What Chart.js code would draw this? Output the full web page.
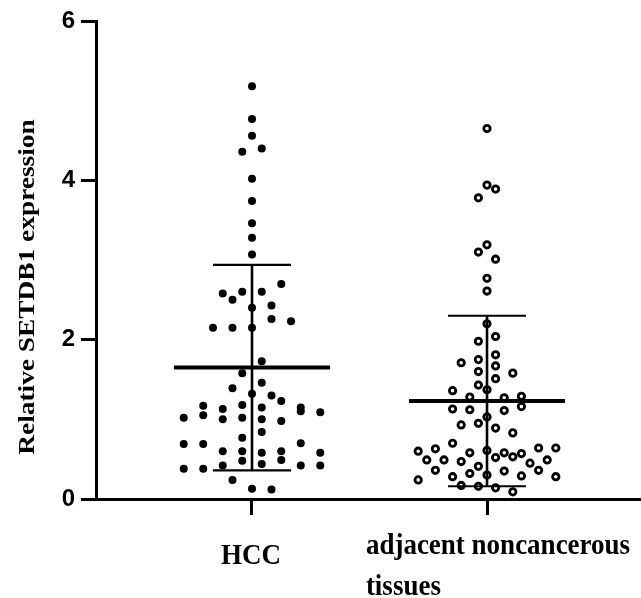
<!DOCTYPE html>
<html>
<head>
<meta charset="utf-8">
<script src="https://cdn.jsdelivr.net/npm/chart.js@4/dist/chart.umd.min.js"></script>
<style>
  body { margin: 0; background: #fff; }
  canvas { display: block; }
</style>
</head>
<body>
<canvas id="dotPlot" width="641" height="598"></canvas>
<script>
// --- data ---
const groupLabels = [['HCC'], ['adjacent noncancerous', 'tissues']];
const yTitle = 'Relative SETDB1 expression';
const yTicks = [0, 2, 4, 6];

// HCC: values and the jitter slot each dot sits in
const hccValues = [
    5.18, 4.77, 4.56, 4.36, 4.40, 4.02, 3.74, 3.46, 3.28,
    3.07, 2.70, 2.58, 2.60, 2.60, 2.50, 2.40, 2.43, 2.26, 2.23, 2.15, 2.15, 2.15,
    1.73, 1.58, 1.46, 1.39,
    1.32, 1.30, 1.23, 1.17, 1.13, 1.18, 1.15, 1.15, 1.10, 1.09,
    1.02, 1.05, 1.00, 1.02, 1.00, 0.98, 0.84, 0.77,
    0.69, 0.69, 0.70, 0.60, 0.60, 0.58, 0.60, 0.58,
    0.48, 0.44, 0.49, 0.42, 0.42, 0.42, 0.38, 0.38, 0.24, 0.13, 0.12
];
const hccSlots = [
    0, 0, 0, -1, 1, 0, 0, 0, 0,
    0, 3, -3, -1, 1, -2, 0, 2, 2, 4, -4, -2, 0,
    1, -1, 1, -2,
    0, 2, 3, -5, -3, -1, 1, 5, 5, 7,
    -7, -5, -3, -1, 1, 3, 1, -1,
    -7, -5, 5, -3, -1, 1, 3, 7,
    -1, 1, 3, -3, 5, 7, -7, -5, -2, 0, 2
];

// adjacent noncancerous tissues
const adjValues = [
    4.65, 3.94, 3.89, 3.78, 3.19, 3.10, 3.01, 2.77, 2.61,
    2.20, 1.98, 2.04, 1.81, 1.75, 1.71, 1.67, 1.60, 1.58, 1.51, 1.43, 1.37, 1.36, 1.28, 1.27, 1.29,
    1.13, 1.12, 1.11, 1.16, 1.03, 0.93, 0.95, 0.89, 0.83, 0.70,
    0.60, 0.63, 0.58, 0.61, 0.52, 0.58, 0.53, 0.57, 0.64, 0.64,
    0.49, 0.49, 0.47, 0.45, 0.49, 0.41,
    0.36, 0.32, 0.35, 0.36, 0.30, 0.28, 0.29, 0.28, 0.24,
    0.17, 0.16, 0.14, 0.09
];
const adjSlots = [
    0, 0, 1, -1, 0, -1, 1, 0, 0,
    0, -1, 1, 1, -1, -3, 1, -1, 3, 1, -1, 0, -4, -2, 2, 4,
    -4, -2, 2, 4, 0, -3, -1, 1, 3, -4,
    -8, -6, -2, 0, 1, 2, 3, 4, 6, 8,
    -7, -5, -3, 5, 7, -1,
    -6, -2, 2, 6, 0, -4, 4, 8, -8,
    -3, -1, 1, 3
];

// mean and SD as drawn
const groupMeans = [1.65, 1.23];
const groupSds = [1.29, 1.07];

// --- layout constants ---
const slotStep = [0.0415, 0.0366];   // jitter step per group, in x units
const meanHalf = 0.332;
const capHalf = 0.166;

const toPoints = (values, slots, g) =>
    values.map((v, i) => ({ x: g + 1 + slots[i] * slotStep[g], y: v }));

const seg = (pts, width) => ({
    data: pts,
    showLine: true,
    borderColor: '#000',
    borderWidth: width,
    borderCapStyle: 'butt',
    pointRadius: 0,
    fill: false
});

// error bars first so they sit on top of the dots
const lineSets = [];
groupMeans.forEach((m, g) => {
    const x = g + 1;
    const s = groupSds[g];
    lineSets.push(seg([{ x: x - meanHalf, y: m }, { x: x + meanHalf, y: m }], 4));
    lineSets.push(seg([{ x: x - capHalf, y: m + s }, { x: x + capHalf, y: m + s }], 2.2));
    lineSets.push(seg([{ x: x - capHalf, y: m - s }, { x: x + capHalf, y: m - s }], 2.2));
    lineSets.push(seg([{ x: x, y: m - s }, { x: x, y: m + s }], 2.6));
});

const labelPlugin = {
    id: 'groupLabels',
    afterDraw(chart) {
        const { ctx, chartArea, scales } = chart;
        ctx.save();
        ctx.fillStyle = '#000';
        ctx.font = 'bold 27px "Liberation Serif", "Times New Roman", serif';
        ctx.textBaseline = 'alphabetic';

        groupLabels.forEach((lines, i) => {
            const px = scales.x.getPixelForValue(i + 1);
            const multi = lines.length > 1;
            const blockW = Math.max(...lines.map(l => ctx.measureText(l).width));
            const left = px - blockW / 2 + (multi ? 11 : -1);
            let base = chartArea.bottom + (multi ? 55 : 65);
            lines.forEach(line => {
                ctx.save();
                ctx.translate(left, base);
                ctx.scale(1, 1.1);
                ctx.textAlign = 'left';
                ctx.fillText(line, 0, 0);
                ctx.restore();
                base += 41;
            });
        });

        // y axis title
        ctx.translate(28, 287);
        ctx.rotate(-Math.PI / 2);
        ctx.scale(1.19, 1);
        ctx.font = 'bold 23px "Liberation Serif", "Times New Roman", serif';
        ctx.textAlign = 'center';
        ctx.textBaseline = 'middle';
        ctx.fillText(yTitle, 0, 0);
        ctx.restore();
    }
};

new Chart(document.getElementById('dotPlot'), {
    type: 'scatter',
    data: {
        datasets: [
            ...lineSets,
            {
                label: groupLabels[0].join(' '),
                data: toPoints(hccValues, hccSlots, 0),
                pointRadius: 4,
                pointBackgroundColor: '#000',
                pointBorderWidth: 0
            },
            {
                label: groupLabels[1].join(' '),
                data: toPoints(adjValues, adjSlots, 1),
                pointRadius: 3.2,
                pointBackgroundColor: '#fff',
                pointBorderColor: '#000',
                pointBorderWidth: 2.8
            }
        ]
    },
    options: {
        responsive: false,
        animation: false,
        layout: { autoPadding: false, padding: { top: 21, right: 0, bottom: 0, left: 0 } },
        plugins: {
            legend: { display: false },
            tooltip: { enabled: false }
        },
        scales: {
            x: {
                type: 'linear',
                min: 0.3362,
                max: 2.6553,
                afterBuildTicks: (scale) => {
                    scale.ticks = groupLabels.map((_, i) => ({ value: i + 1 }));
                },
                afterFit: (scale) => { scale.height = 99; },
                ticks: { display: false },
                grid: {
                    drawOnChartArea: false,
                    drawTicks: true,
                    tickLength: 16,
                    tickWidth: 3,
                    tickColor: '#000',
                    color: '#000'
                },
                border: { display: true, width: 3, color: '#000' }
            },
            y: {
                min: 0,
                max: 6,
                afterBuildTicks: (scale) => {
                    scale.ticks = yTicks.map(v => ({ value: v }));
                },
                afterFit: (scale) => { scale.width = 96; },
                ticks: {
                    color: '#000',
                    padding: 6,
                    font: { family: '"Liberation Sans", Arial, sans-serif', size: 24, weight: 'bold' }
                },
                grid: {
                    drawOnChartArea: false,
                    drawTicks: true,
                    tickLength: 15,
                    tickWidth: 3,
                    tickColor: '#000',
                    color: '#000'
                },
                border: { display: true, width: 3, color: '#000' }
            }
        }
    },
    plugins: [labelPlugin]
});
</script>
</body>
</html>
